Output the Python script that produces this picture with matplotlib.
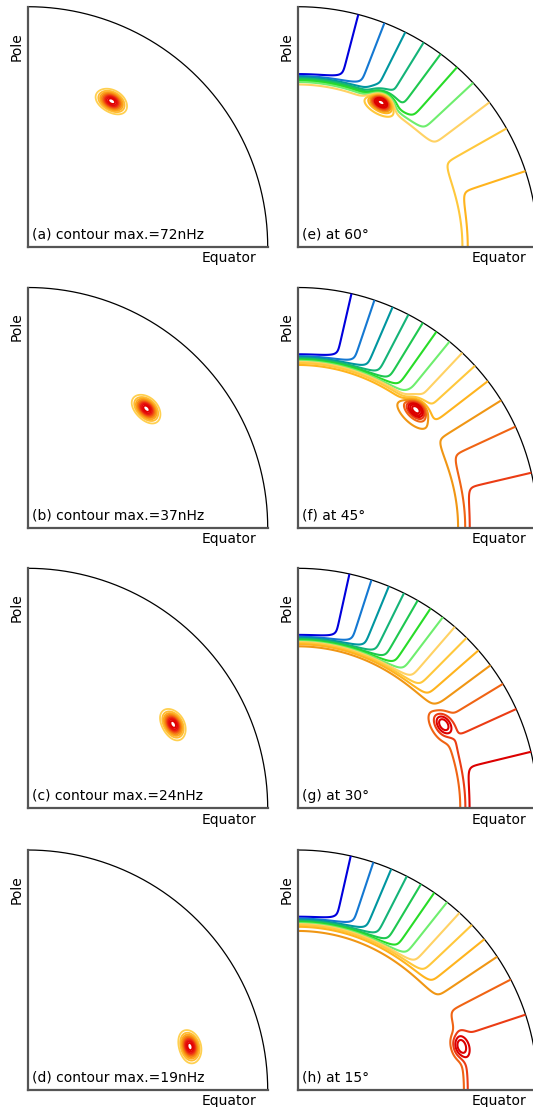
import numpy as np
import matplotlib
matplotlib.use("Agg")
import matplotlib.pyplot as plt
from matplotlib.colors import LinearSegmentedColormap, Normalize

# ---------------- data ----------------
left_letters = ["a", "b", "c", "d"]
right_letters = ["e", "f", "g", "h"]
source_latitudes_deg = [60, 45, 30, 15]
contour_max_nhz = [72, 37, 24, 19]
model_amplitude_nhz = [129, 70, 36, 34]   # perturbation added to the rotation model
contour_intervals = [17, 17, 16, 16]
source_radius = 0.70

# surface rotation profile (nHz) and tachocline parameters
omega_eq, omega_a2, omega_a4 = 460.7, 62.69, 67.13
omega_core = 437.0
tacho_r, tacho_w = 0.70, 0.019
src_sig_r, src_sig_t = 0.0214, 0.033
blob_levels_frac = [0.1, 0.2, 0.3, 0.4, 0.5, 0.6, 0.7, 0.8, 0.9]

# colour of the k-th contour level (counted from the lowest)
level_colors = ["#0000dd", "#1478d2", "#0096a0", "#14b478", "#1ec850",
                "#28dc28", "#6eee6e", "#ffd264", "#ffc83c", "#ffb41e",
                "#f09614", "#f06414", "#eb3c14", "#dc0000", "#dc0000",
                "#dc0000"]
blob_colors = ["#ffd050", "#ffb020", "#f58a10", "#f05010", "#e81010", "#e00000"]

# ---------------- figure ----------------
W, H = 533, 1107
fig = plt.figure(figsize=(W / 100, H / 100), dpi=100)

ax_size = 240
col_left = [27.7, 297.7]
row_bottom = [246.7, 527.5, 808.3, 1090.0]

rr = np.linspace(0.3, 1.0, 700)
tt = np.linspace(0.0, np.pi / 2, 700)   # colatitude
R, T = np.meshgrid(rr, tt)
X = R * np.sin(T)
Y = R * np.cos(T)

cmap_blob = LinearSegmentedColormap.from_list("bl", blob_colors)

arc_t = np.linspace(0, np.pi / 2, 400)


def setup(ax, label):
    ax.set_xlim(0, 1)
    ax.set_ylim(0, 1)
    ax.set_aspect("auto")
    for s in ["top", "right"]:
        ax.spines[s].set_visible(False)
    for s in ["left", "bottom"]:
        ax.spines[s].set_color("#555555")
        ax.spines[s].set_linewidth(1.6)
    ax.set_xticks([])
    ax.set_yticks([])
    ax.patch.set_alpha(0)
    ax.plot(np.sin(arc_t), np.cos(arc_t), color="black", lw=0.9, clip_on=False)
    ax.text(-0.046, 0.835, "Pole", rotation=90, ha="center", va="center",
            fontsize=10, family="DejaVu Sans")
    ax.text(0.954, -0.064, "Equator", ha="right", va="baseline",
            fontsize=10, family="DejaVu Sans", clip_on=False)
    ax.text(0.018, 0.035, label, ha="left", va="baseline",
            fontsize=10, family="DejaVu Sans")


def perturbation(i):
    ths = np.deg2rad(90 - source_latitudes_deg[i])
    return np.exp(-((R - source_radius) ** 2 / (2 * src_sig_r ** 2)
                    + (R * (T - ths)) ** 2 / (2 * src_sig_t ** 2)))


for i in range(4):
    bottom = (H - row_bottom[i]) / H
    # left: perturbation alone
    axl = fig.add_axes([col_left[0] / W, bottom, ax_size / W, ax_size / H])
    setup(axl, f"({left_letters[i]}) contour max.={contour_max_nhz[i]}nHz")
    P = contour_max_nhz[i] * perturbation(i)
    lv = [f * contour_max_nhz[i] for f in blob_levels_frac]
    axl.contour(X, Y, P, levels=lv, cmap=cmap_blob,
                norm=Normalize(lv[0], lv[-1]), linewidths=1.3)

    # right: total rotation rate
    axr = fig.add_axes([col_left[1] / W, bottom, ax_size / W, ax_size / H])
    setup(axr, f"({right_letters[i]}) at {source_latitudes_deg[i]}\u00b0")
    c2 = np.cos(T) ** 2
    om_cz = omega_eq - omega_a2 * c2 - omega_a4 * c2 ** 2
    S = 0.5 * (1 + np.tanh((R - tacho_r) / tacho_w))
    Om = omega_core + (om_cz - omega_core) * S + model_amplitude_nhz[i] * perturbation(i)
    lv = np.linspace(Om.min(), Om.max(), contour_intervals[i] + 1)[1:-1]
    axr.contour(X, Y, Om, levels=lv, colors=level_colors[:len(lv)],
                linewidths=1.5)

fig.savefig("out.png", dpi=100)
